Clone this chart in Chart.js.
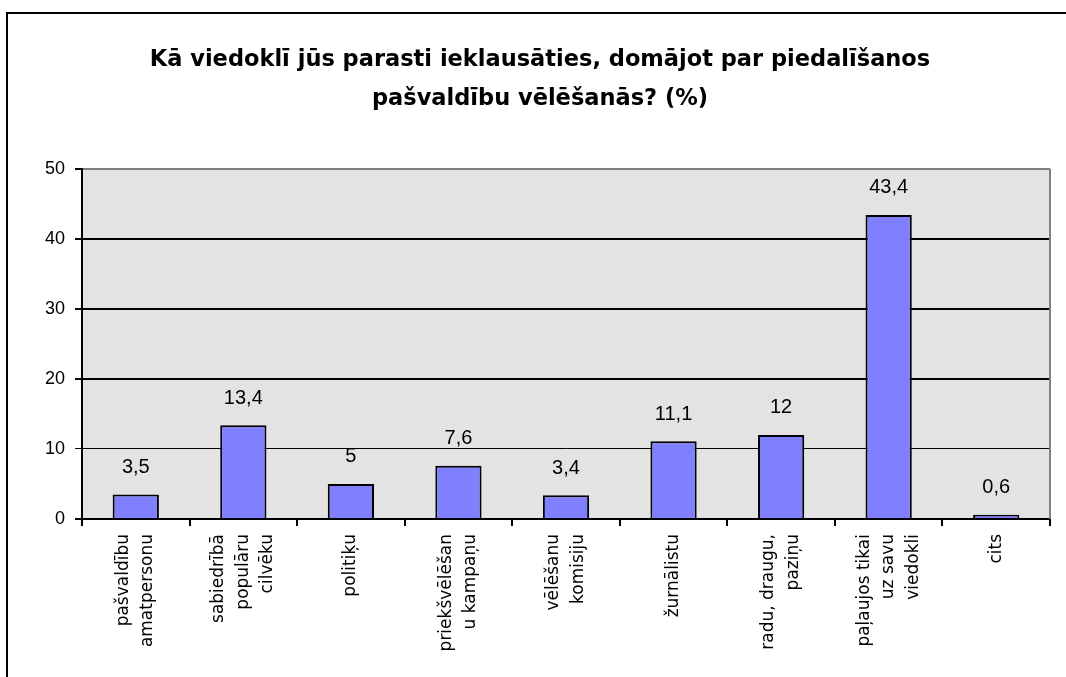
<!DOCTYPE html>
<html>
<head>
<meta charset="utf-8">
<script src="https://cdn.jsdelivr.net/npm/chart.js@4/dist/chart.umd.min.js"></script>
<style>
html,body{margin:0;padding:0;background:#fff;}
#wrap{width:1066px;height:677px;position:relative;}
</style>
</head>
<body>
<div id="wrap"><canvas id="c" width="1066" height="677"></canvas></div>
<script>
const titleLines = ["Kā viedoklī jūs parasti ieklausāties, domājot par piedalīšanos", "pašvaldību vēlēšanās? (%)"];
const categories = [
  ["pašvaldību", "amatpersonu"],
  ["sabiedrībā", "populāru", "cilvēku"],
  ["politiķu"],
  ["priekšvēlēšan", "u kampaņu"],
  ["vēlēšanu", "komisiju"],
  ["žurnālistu"],
  ["radu, draugu,", "paziņu"],
  ["paļaujos tikai", "uz savu", "viedokli"],
  ["cits"]
];
const values = [3.5, 13.4, 5, 7.6, 3.4, 11.1, 12, 43.4, 0.6];
const yTicks = [0, 10, 20, 30, 40, 50];

// half-line slots so multi-line rotated labels are centred on their category
const SLOT = 12.25;
function centredLabel(lines) {
  const out = [];
  const start = 3 - lines.length;
  for (let i = 0; i < start; i++) out.push('');
  lines.forEach((l, j) => { if (j > 0) out.push(''); out.push(l); });
  return out;
}

const framePlugin = {
  id: 'frame',
  beforeDraw(chart) {
    const ctx = chart.ctx, a = chart.chartArea;
    ctx.save();
    ctx.fillStyle = '#e3e3e3';
    ctx.fillRect(a.left, a.top, a.right - a.left, a.bottom - a.top);
    ctx.restore();
  },
  afterDraw(chart) {
    const ctx = chart.ctx, a = chart.chartArea;
    ctx.save();
    ctx.strokeStyle = '#808080';
    ctx.lineWidth = 2;
    ctx.beginPath();
    ctx.moveTo(a.right, a.top);
    ctx.lineTo(a.right, a.bottom);
    ctx.stroke();
    ctx.strokeStyle = '#000';
    ctx.lineWidth = 2;
    ctx.beginPath();
    ctx.moveTo(7, 677);
    ctx.lineTo(7, 13);
    ctx.lineTo(1066, 13);
    ctx.stroke();
    ctx.restore();
  },
  afterDatasetsDraw(chart) {
    const ctx = chart.ctx;
    const meta = chart.getDatasetMeta(0);
    ctx.save();
    ctx.fillStyle = '#000';
    ctx.font = '20px "Liberation Sans", Arial, sans-serif';
    ctx.textAlign = 'center';
    ctx.textBaseline = 'middle';
    meta.data.forEach((bar, i) => {
      const txt = String(values[i]).replace('.', ',');
      ctx.fillText(txt, bar.x, bar.y - 27);
    });
    ctx.restore();
  }
};

new Chart(document.getElementById('c'), {
  type: 'bar',
  data: {
    labels: categories.map(centredLabel),
    datasets: [{
      data: values,
      backgroundColor: '#8080ff',
      borderColor: '#000',
      borderWidth: 2,
      barPercentage: 0.43,
      categoryPercentage: 1
    }]
  },
  options: {
    responsive: false,
    animation: false,
    layout: { padding: { top: 0, right: 16, left: 30, bottom: 0 } },
    plugins: {
      legend: { display: false },
      tooltip: { enabled: false },
      title: {
        display: true,
        text: titleLines,
        color: '#000',
        font: { family: '"DejaVu Sans", Tahoma, sans-serif', size: 22.5, weight: 'bold', lineHeight: 1.75 },
        padding: { top: 40, bottom: 50 }
      }
    },
    scales: {
      x: {
        offset: true,
        border: { color: '#000', width: 2 },
        grid: { drawOnChartArea: false, drawTicks: true, tickLength: 7, color: '#000', lineWidth: 2, offset: true },
        ticks: {
          color: '#000',
          maxRotation: 90,
          minRotation: 90,
          autoSkip: false,
          padding: 8,
          labelOffset: -2 * SLOT,
          font: { family: '"DejaVu Sans", Arial, sans-serif', size: 17, lineHeight: SLOT + 'px' }
        },
        afterFit(scale) { scale.height = 158; }
      },
      y: {
        min: 0,
        max: 50,
        border: { color: '#000', width: 2 },
        afterBuildTicks(scale) { scale.ticks = yTicks.map(v => ({ value: v })); },
        grid: {
          color: ctx => (ctx.tick && ctx.tick.value === 50) ? '#808080' : '#000',
          lineWidth: ctx => {
            const v = ctx.tick ? ctx.tick.value : 0;
            if (v === 10) return 1;
            return 2;
          },
          tickColor: '#000',
          tickLength: 7,
          drawTicks: true
        },
        ticks: {
          color: '#000',
          padding: 10,
          font: { family: '"Liberation Sans", Arial, sans-serif', size: 18 }
        },
        afterFit(scale) { scale.width = 52; }
      }
    }
  },
  plugins: [framePlugin]
});
</script>
</body>
</html>
